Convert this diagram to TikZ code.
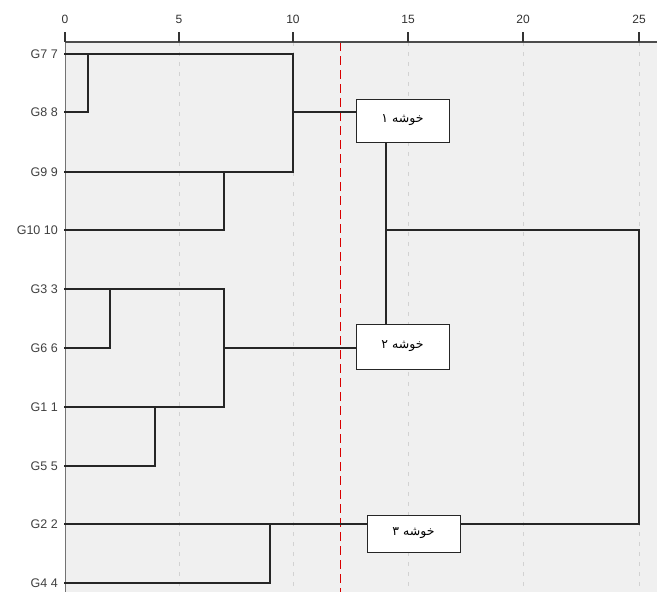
\documentclass[tikz,border=0pt]{standalone}
\usepackage{fontspec}
\setmainfont{Liberation Sans}
\newfontfamily\arabicfont[Script=Arabic]{DejaVu Sans}
\TeXXeTstate=1
\begin{document}
\begin{tikzpicture}[x=1pt,y=-1pt,
  leaf/.style={anchor=east,inner sep=0pt,font=\fontsize{12.5}{14}\selectfont,text=black!75},
  ticklbl/.style={anchor=base,inner sep=0pt,font=\fontsize{12}{14}\selectfont,text=black!80},
  dline/.style={line width=1.7pt,black!85,line cap=rect},
  clbox/.style={draw=black!85,line width=1pt,fill=white,minimum width=93pt,inner sep=0pt,font=\arabicfont\fontsize{12.5}{14}\selectfont},
  grid/.style={gray!35,line width=0.8pt,dash pattern=on 4pt off 6pt},
  cut/.style={red!85!black,line width=0.9pt,dash pattern=on 9pt off 5pt}]
\useasboundingbox (0,0) rectangle (657,592);
\fill[white] (0,0) rectangle (657,592);
\fill[black!6] (65,42) rectangle (657,592);
% grid
\foreach \px in {179,293,408,523,639} \draw[grid] (\px,42) -- (\px,592);
\draw[cut] (340,42) -- (340,592);
% axes
\draw[black!55,line width=0.8pt] (65,42) -- (65,592);
\draw[black!70,line width=2.4pt] (65,42) -- (657,42);
\foreach \px/\v in {65/0,179/5,293/10,408/15,523/20,639/25}{
  \draw[black!80,line width=1.2pt] (\px,32) -- (\px,42);
  \node[ticklbl] (t\v) at (\px,23) {\v};
}
% leaf labels
\foreach \y/\lab/\nm in {54/G7 7/l7,112/G8 8/l8,172/G9 9/l9,230/G10 10/l10,289/G3 3/l3,348/G6 6/l6,407/G1 1/l1,466/G5 5/l5,524/G2 2/l2,583/G4 4/l4}{
  \node[leaf] (\nm) at (58,\y) {\lab};
  \coordinate (c\nm) at (65,\y);
}
% cluster boxes (placed first so the connectors can reach them)
\node[clbox,minimum height=43pt] (k1) at (402.5,120.5) {\beginR خوشه ۱\endR};
\node[clbox,minimum height=45pt] (k2) at (402.5,346.5) {\beginR خوشه ۲\endR};
\node[clbox,minimum height=37pt] (k3) at (413.5,533.5) {\beginR خوشه ۳\endR};
% dendrogram
\draw[dline] (cl7) -- (293,54) -- (293,172);
\draw[dline] (cl8) -- (88,112) -- (88,54);
\draw[dline] (cl9) -- (293,172);
\draw[dline] (cl10) -- (224,230) -- (224,172);
\draw[dline] (293,112) -- (k1.west |- 0,112);
\draw[dline] (cl3) -- (224,289) -- (224,407);
\draw[dline] (cl1) -- (224,407);
\draw[dline] (cl6) -- (110,348) -- (110,289);
\draw[dline] (cl5) -- (155,466) -- (155,407);
\draw[dline] (224,348) -- (k2.west |- 0,348);
\coordinate (j) at (386,230);
\draw[dline] (j |- k1.south) -- (j |- k2.north);
\draw[dline] (j) -- (639,230) -- (639,524) -- (k3.east |- 0,524);
\draw[dline] (k3.west |- 0,524) -- (cl2);
\draw[dline] (cl4) -- (270,583) -- (270,524);
% boxes again on top of the lines
\node[clbox,minimum height=43pt] at (k1) {\beginR خوشه ۱\endR};
\node[clbox,minimum height=45pt] at (k2) {\beginR خوشه ۲\endR};
\node[clbox,minimum height=37pt] at (k3) {\beginR خوشه ۳\endR};
\end{tikzpicture}
\end{document}
